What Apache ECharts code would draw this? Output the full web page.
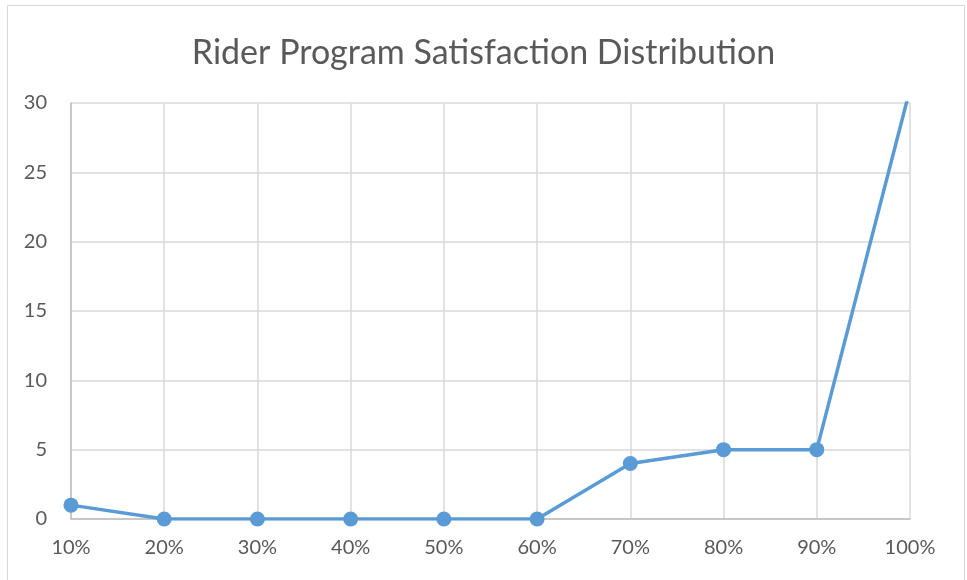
<!DOCTYPE html>
<html>
<head>
<meta charset="utf-8">
<script src="https://cdn.jsdelivr.net/npm/echarts@6/dist/echarts.min.js"></script>
<style>html,body{margin:0;padding:0;background:#fff}#c{width:967px;height:580px}</style>
</head>
<body>
<div id="c"></div>
<script>
const categories = ['10%','20%','30%','40%','50%','60%','70%','80%','90%','100%'];
const counts = [1,0,0,0,0,0,4,5,5,31];
const yTicks = [0,5,10,15,20,25,30];

const chart = echarts.init(document.getElementById('c'), null, {renderer:'canvas'});
const font = 'Lato, "Open Sans", sans-serif';
chart.setOption({
  animation:false,
  backgroundColor:'#fff',
  graphic:[{type:'rect',shape:{x:7.5,y:5.5,width:957,height:600},style:{fill:null,stroke:'#d9d9d9',lineWidth:1},silent:true}],
  title:{text:'Rider Program Satisfaction Distribution',left:'center',top:31,
    textStyle:{fontFamily:font,fontSize:34,fontWeight:'normal',color:'#595959'}},
  grid:{left:71,right:57,top:103,bottom:61,containLabel:false},
  xAxis:{type:'category',data:categories,boundaryGap:false,
    axisLine:{lineStyle:{color:'#bfbfbf',width:1.5}},axisTick:{show:false},
    splitLine:{show:true,lineStyle:{color:'#d9d9d9',width:1.5}},
    axisLabel:{fontFamily:font,fontSize:20,color:'#595959',margin:19,interval:0}},
  yAxis:{type:'value',min:yTicks[0],max:yTicks[yTicks.length-1],interval:5,
    axisLine:{show:true,lineStyle:{color:'#bfbfbf',width:1.5}},axisTick:{show:false},
    splitLine:{lineStyle:{color:'#d9d9d9',width:1.5}},
    axisLabel:{fontFamily:font,fontSize:20,color:'#595959',margin:24}},
  series:[{type:'line',data:counts,clip:true,symbol:'circle',symbolSize:15,
    lineStyle:{color:'#5b9bd5',width:3.5},itemStyle:{color:'#5b9bd5'}}]
});
</script>
</body>
</html>
